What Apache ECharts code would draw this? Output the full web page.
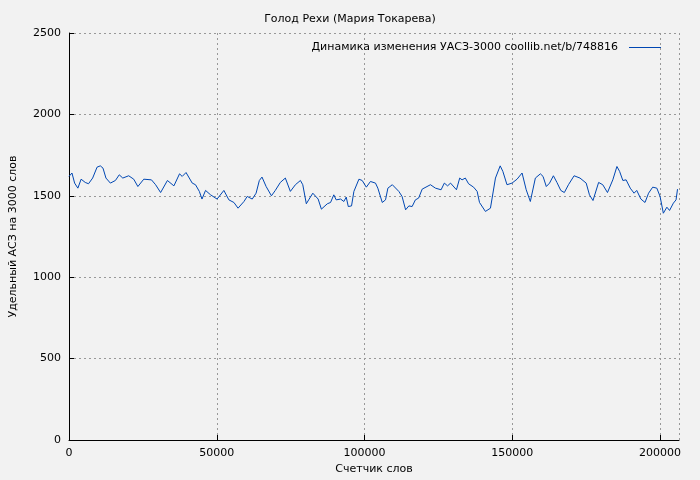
<!DOCTYPE html>
<html><head><meta charset="utf-8">
<script src="https://cdn.jsdelivr.net/npm/echarts@6/dist/echarts.min.js"></script>
<style>html,body{margin:0;padding:0;background:#f2f2f2}#c{width:700px;height:480px}</style>
</head><body><div id="c"></div>
<script>
const words = [0,1000,1900,3000,4100,5500,6600,8000,9500,10600,11500,12500,14000,15700,17000,18200,20200,21900,23300,25300,27900,29300,31000,31500,33300,35500,36000,37400,38300,39600,41700,42800,44100,45000,46200,47900,50100,52400,54100,55800,57200,59200,60300,62000,63300,64400,65300,66700,68500,69800,71500,73200,74900,76600,78300,79100,80300,81100,82500,84300,85400,87400,88500,89600,90400,91900,93000,93800,94500,95600,96400,98100,99200,100600,102000,103700,104500,106000,107100,107900,109400,111600,112700,113900,115000,116100,117200,118300,119500,122300,124000,125900,127000,128100,129100,131100,132200,133000,134100,135200,136900,138100,138900,140900,142600,144300,145900,146800,148200,149900,151600,153300,154700,156100,157800,159500,160400,161500,162600,163900,165100,166400,167600,169000,170900,172900,175000,176100,177300,179200,180600,182200,184000,185400,186300,187400,188500,189900,191200,192100,193500,194900,196100,197500,198900,200000,201100,202300,203200,204500,205400,205900];
const values = [1619,1640,1578,1547,1602,1582,1574,1609,1676,1684,1670,1609,1578,1594,1629,1609,1623,1602,1557,1602,1598,1568,1520,1516,1594,1561,1568,1635,1619,1643,1578,1568,1527,1480,1533,1506,1480,1533,1475,1459,1424,1465,1496,1480,1516,1594,1615,1557,1500,1533,1582,1609,1527,1568,1594,1568,1451,1475,1516,1480,1418,1451,1459,1506,1475,1480,1465,1492,1434,1438,1527,1602,1594,1553,1588,1578,1547,1459,1475,1547,1568,1527,1496,1414,1438,1434,1475,1486,1541,1568,1547,1537,1578,1561,1578,1537,1609,1598,1609,1574,1553,1527,1459,1404,1424,1609,1684,1650,1568,1578,1602,1640,1537,1465,1609,1635,1619,1557,1578,1623,1582,1533,1520,1568,1623,1609,1578,1506,1471,1582,1568,1520,1598,1680,1650,1594,1598,1547,1516,1533,1480,1459,1516,1553,1547,1496,1393,1430,1410,1455,1475,1541];
const seriesName = 'Динамика изменения УАСЗ-3000 coollib.net/b/748816';
const data = words.map((w,i)=>[w,values[i]]);
const chart = echarts.init(document.getElementById('c'));
const f = 'DejaVu Sans';
chart.setOption({
  backgroundColor:'#f2f2f2',
  animation:false,
  title:{text:'Голод Рехи (Мария Токарева)',left:'center',top:9,textStyle:{fontFamily:f,fontSize:11,fontWeight:'normal',color:'#000'}},
  legend:{right:34,top:37,align:'right',itemWidth:32,itemHeight:1,itemGap:0,
    icon:'rect',textStyle:{fontFamily:f,fontSize:11,color:'#000',padding:[0,6,0,0]},data:[seriesName]},
  grid:{left:68,right:21,top:33,bottom:40},
  xAxis:{type:'value',min:0,max:206400,interval:50000,
    name:'Счетчик слов',nameLocation:'middle',nameGap:24,nameTextStyle:{fontFamily:f,fontSize:11,color:'#000'},
    axisLine:{show:true,onZero:false,lineStyle:{color:'#000'}},axisTick:{show:true,inside:true,lineStyle:{color:'#000'}},
    axisLabel:{fontFamily:f,fontSize:11,color:'#000',showMaxLabel:false,formatter:v=>String(v)},
    splitLine:{show:true,lineStyle:{color:'#999',type:[2,3]}}},
  yAxis:{type:'value',min:0,max:2500,interval:500,
    name:'Удельный АСЗ на 3000 слов',nameLocation:'middle',nameGap:50,nameTextStyle:{fontFamily:f,fontSize:11,color:'#000'},
    axisLine:{show:true,lineStyle:{color:'#000'}},axisTick:{show:true,inside:true,lineStyle:{color:'#000'}},
    axisLabel:{fontFamily:f,fontSize:11,color:'#000',formatter:v=>String(v)},
    splitLine:{show:true,lineStyle:{color:'#999',type:[2,3]}}},
  series:[{name:seriesName,type:'line',data:data,showSymbol:false,symbol:'none',
    lineStyle:{color:'#0047b3',width:1},itemStyle:{color:'#0047b3'}}]
});
</script></body></html>
